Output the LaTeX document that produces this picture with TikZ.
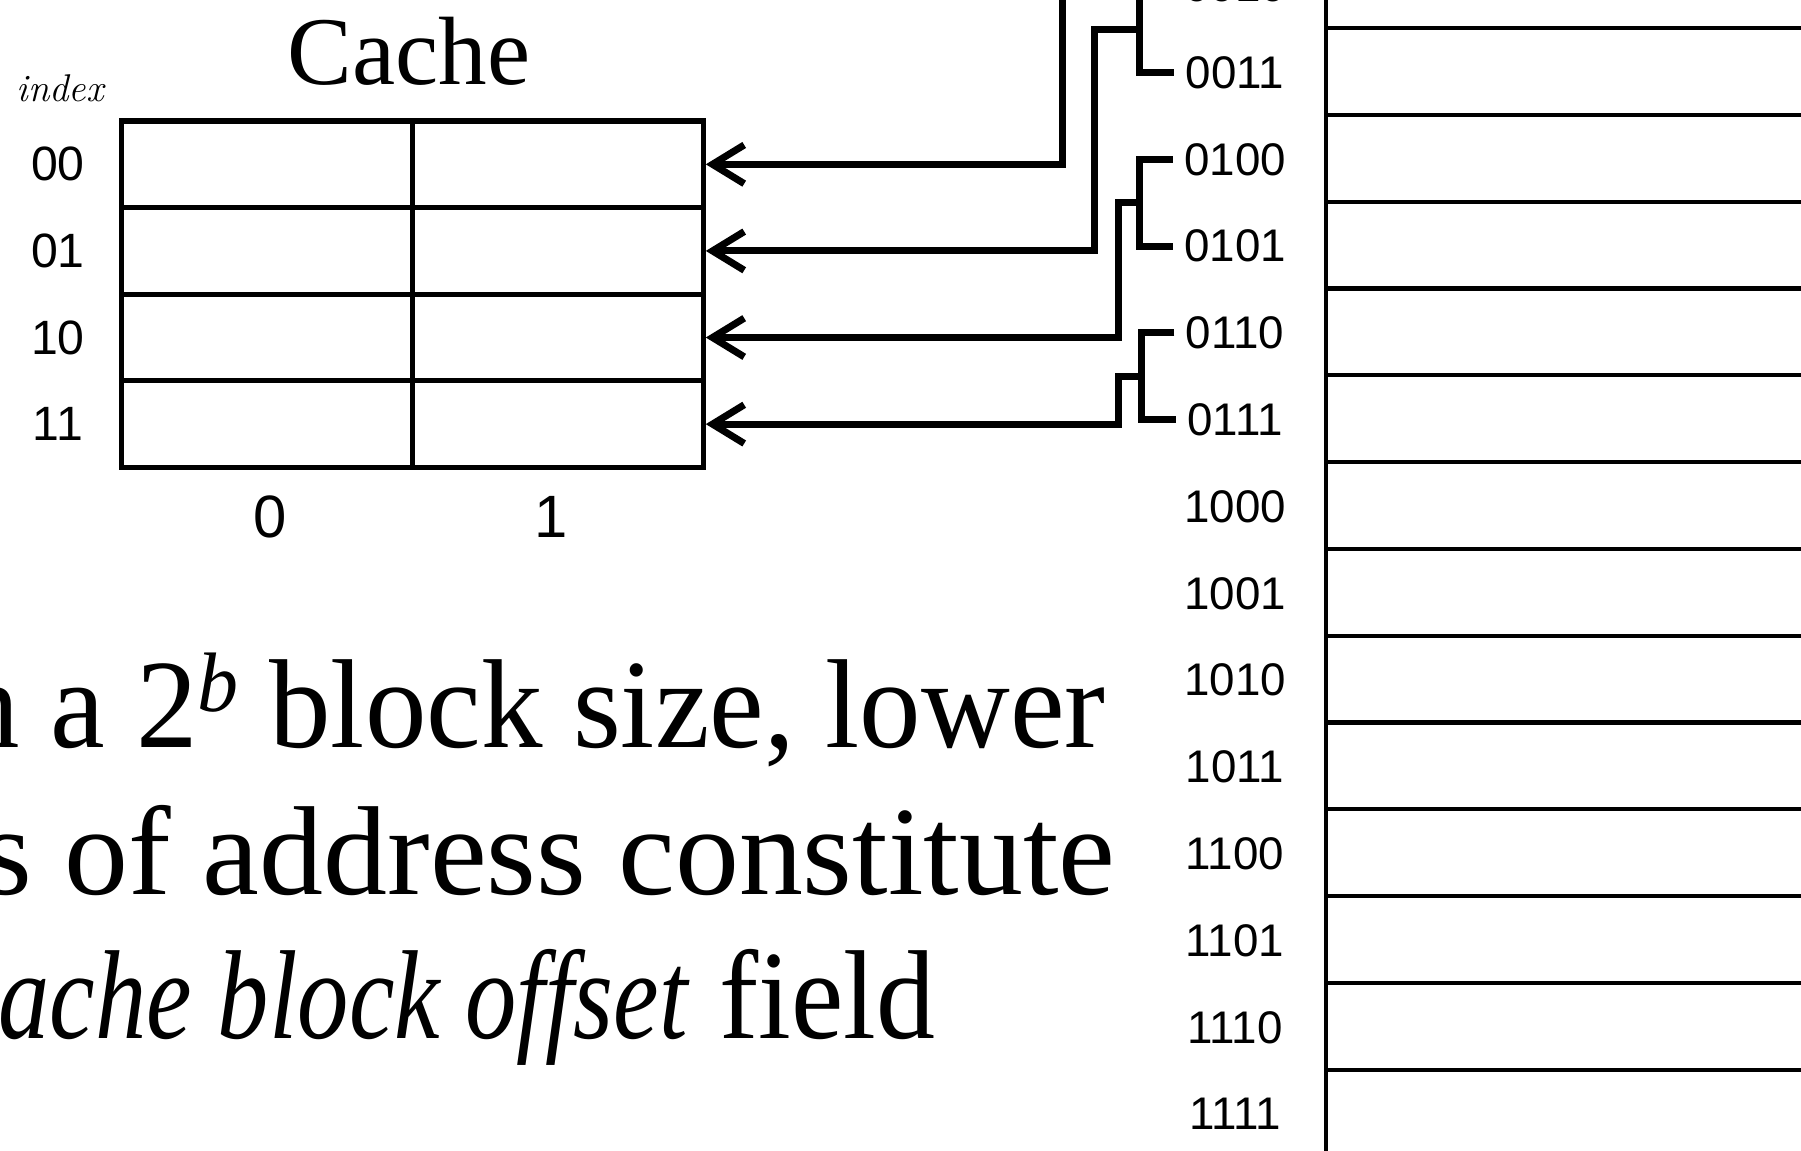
\documentclass[tikz,border=0pt]{standalone}
\usepackage{fontspec}
\usepackage{graphicx}
\newfontfamily\serifA{Liberation Serif}
\newfontfamily\sansA{Liberation Sans}
\usetikzlibrary{arrows.meta,calc}
\begin{document}
\begin{tikzpicture}[x=0.01cm,y=-0.01cm,
  cacherow/.style={draw, line width=1.5pt, minimum width=5.81cm, minimum height=0.866cm, inner sep=0pt},
  idx/.style={font=\sansA\fontsize{13.7}{16}\selectfont, inner sep=0pt},
  addr/.style={font=\sansA\fontsize{13}{15}\selectfont, inner xsep=3.1pt, inner ysep=0pt},
  collab/.style={font=\sansA\fontsize{17}{20}\selectfont, inner sep=0pt, anchor=base},
  memline/.style={line width=1.2pt},
  brk/.style={line width=2pt},
  link/.style={line width=2pt, -{Straight Barb[length=9pt,width=11pt]}},
  body/.style={font=\serifA\fontsize{36}{43}\selectfont, inner sep=0pt, anchor=base west}]
\useasboundingbox (0,0) rectangle (1801,1150);
\clip (0,0) rectangle (1801,1150);

% title and header
\node[font=\serifA\fontsize{27.6}{33}\selectfont, anchor=base, inner sep=0pt] (title) at (409,84) {Cache};
\node[font=\itshape\fontsize{11}{13}\selectfont, anchor=base west, inner sep=0pt] (idxhead) at (16,101.5) {index};

% cache rows
\foreach \i in {0,...,3}
  \node[cacherow] (c\i) at (412.5,{164.3+86.6*\i}) {};
\draw[line width=1.5pt] (c0.center |- c0.north) -- (c3.center |- c3.south);

% index labels
\node[idx] (i0) at (58,164.3) {00};
\node[idx] (i1) at (58,250.9) {01};
\node[idx] (i2) at (58,337.5) {10};
\node[idx] (i3) at (58,424.1) {11};

% column labels
\node[collab] (k0) at (270,537) {0};
\node[collab] (k1) at (551,537) {1};

% memory
\draw[memline] (1326,-10) -- (1326,1160);
\foreach \k in {0,...,12}
  \draw[memline] (1326,{28+86.8*\k}) -- (1810,{28+86.8*\k});

\foreach \i/\lab in {2/0010,3/0011,4/0100,5/0101,6/0110,7/0111,8/1000,9/1001,10/1010,11/1011,12/1100,13/1101,14/1110,15/1111}
  \node[addr] (a\i) at (1235,{72.5+86.8*(\i-3)}) {\lab};

% brackets
\foreach \j in {1,2,3} {
  \pgfmathtruncatemacro\ta{2*\j}
  \pgfmathtruncatemacro\tb{2*\j+1}
  \draw[brk] (a\ta.west) -- ++(-33,0) |- (a\tb.west);
  \coordinate (m\j) at ($(a\ta.west)!0.5!(a\tb.west)+(-33,0)$);
}
\coordinate (m0) at (1140,-142);

% vertical routing positions
\coordinate (v0) at (1062,0);
\coordinate (v1) at (1094.5,0);
\coordinate (v2) at (1118,0);
\coordinate (v3) at (1118,0);

% connectors
\foreach \j in {0,1,2,3}
  \draw[link] (m\j) -- (m\j -| v\j) |- (c\j.east);

% body text
\node[body] (t1) at (-42,747) {\scalebox{0.971}[1]{n a 2\raisebox{10pt}{\fontsize{24}{0}\selectfont\itshape b} block size, lower}};
\node[body] (t2) at (-18,894) {\scalebox{1.01}[1]{s of address constitute}};
\node[body] (t3) at (-2,1038) {\scalebox{0.81}[1]{\itshape ache block offset} \scalebox{0.93}[1]{field}};
\end{tikzpicture}
\end{document}
